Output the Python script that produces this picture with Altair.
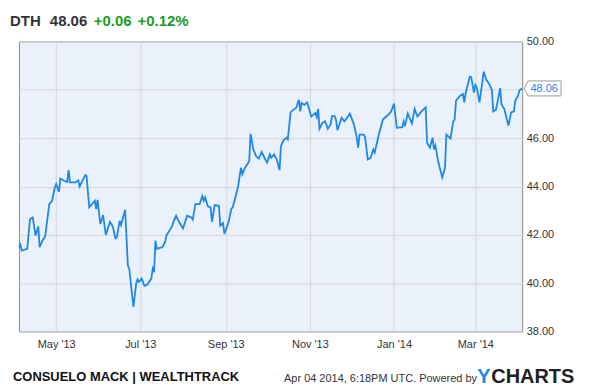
import altair as alt
import pandas as pd

# ---------------- data ----------------
start_date = "2013-04-04"
day_offsets = [
    0, 1, 2, 6, 8, 10, 12, 14, 15, 17, 19, 22, 24, 26, 27, 29, 30, 33, 35, 36,
    37, 41, 43, 44, 48, 49, 51, 55, 56, 57, 59, 61, 63, 66, 68, 70, 71, 73, 74, 77,
    79, 80, 83, 85, 86, 87, 89, 91, 93, 96, 97, 98, 99, 100, 104, 106, 107, 111, 112, 114,
    116, 119, 122, 125, 126, 128, 131, 133, 134, 135, 137, 139, 140, 142, 145, 146, 148, 149, 152, 154,
    155, 157, 159, 161, 162, 164, 167, 168, 170, 172, 174, 176, 179, 180, 182, 183, 185, 187, 189, 190,
    192, 194, 195, 197, 199, 201, 203, 204, 205, 207, 209, 212, 215, 216, 217, 218, 220, 222, 224, 226,
    227, 229, 230, 231, 234, 236, 238, 240, 243, 245, 246, 247, 250, 251, 253, 255, 257, 258, 261, 264,
    268, 270, 272, 274, 278, 279, 280, 282, 285, 287, 289, 292, 295, 296, 298, 300, 301, 302, 304, 307,
    309, 310, 313, 315, 316, 317, 320, 322, 323, 324, 327, 328, 330, 331, 332, 334, 336, 337, 339, 341,
    343, 344, 346, 349, 350, 352, 355, 357, 359, 360, 362, 363, 365,
]
prices = [
    41.49, 41.60, 41.35, 41.42, 42.65, 42.72, 41.97, 42.35, 41.49, 41.76, 41.94, 43.27, 43.41, 43.96, 44.10, 43.78, 44.33, 44.23, 44.19, 44.68,
    44.17, 44.17, 44.26, 44.00, 44.47, 44.44, 43.14, 43.41, 43.07, 43.45, 42.45, 42.82, 42.00, 42.54, 42.35, 41.86, 41.90, 42.58, 42.41, 43.04,
    40.73, 40.60, 39.02, 39.98, 40.16, 40.05, 40.19, 39.89, 39.94, 40.19, 40.60, 40.46, 41.76, 41.42, 41.49, 41.70, 41.98, 42.35, 42.53, 42.79,
    42.54, 42.27, 42.79, 42.72, 42.63, 43.27, 43.27, 43.61, 43.41, 43.55, 43.18, 43.14, 42.54, 43.23, 43.20, 42.38, 42.49, 42.04, 42.52, 43.07,
    43.14, 43.55, 44.02, 44.78, 44.51, 44.78, 45.05, 46.18, 45.54, 45.26, 45.16, 45.43, 45.09, 44.99, 45.33, 45.19, 45.33, 45.12, 44.68, 45.67,
    45.92, 46.02, 45.95, 47.07, 47.18, 47.25, 47.59, 47.11, 47.46, 47.38, 47.48, 46.90, 47.04, 46.88, 47.21, 46.39, 46.63, 46.70, 46.39, 46.56,
    46.91, 46.91, 46.74, 46.33, 46.84, 46.70, 46.84, 47.02, 46.56, 46.02, 45.61, 46.15, 46.15, 46.06, 45.12, 45.19, 45.53, 45.40, 46.15, 46.77,
    46.98, 47.11, 47.43, 46.43, 46.46, 46.70, 46.50, 47.02, 46.61, 47.21, 46.90, 47.11, 47.28, 45.81, 45.61, 46.02, 45.54, 45.70, 45.05, 44.37,
    44.78, 46.15, 45.98, 46.70, 46.77, 47.56, 47.76, 47.83, 47.48, 47.87, 48.55, 48.53, 47.89, 48.21, 48.11, 47.48, 48.28, 48.76, 48.42, 48.25,
    48.00, 47.11, 47.18, 48.07, 47.39, 47.21, 46.52, 47.07, 47.11, 47.56, 47.76, 47.98, 48.06,
]

ticker = "DTH"
last_price_text = "48.06"
change_abs = "+0.06"
change_pct = "+0.12%"
footer_left = "CONSUELO MACK | WEALTHTRACK"
footer_right = "Apr 04 2014, 6:18PM UTC. Powered by"
logo_a = "Y"
logo_b = "CHARTS"

x_domain = [(2013, 4, 4), (2014, 4, 4)]
x_ticks = [(2013, 5, 1), (2013, 7, 1), (2013, 9, 1), (2013, 11, 1), (2014, 1, 1), (2014, 3, 1)]
y_ticks = [38, 40, 42, 44, 46, 48, 50]

# ---------------- chart ----------------
FONT = "Liberation Sans"
LINE_BLUE = "#1E88E5"
GRID = "#D4D7DC"

df = pd.DataFrame({
    "date": pd.Timestamp(start_date) + pd.to_timedelta(day_offsets, unit="D"),
    "price": prices,
})
last = df.tail(1).assign(label=last_price_text)

def dt(t):
    return alt.DateTime(year=t[0], month=t[1], date=t[2])

x_enc = alt.X(
    "date:T",
    scale=alt.Scale(domain=[dt(t) for t in x_domain], nice=False),
    axis=alt.Axis(
        values=[dt(t) for t in x_ticks], format="%b '%y", title=None,
        labelFont=FONT, labelFontSize=11, labelColor="#333333", labelPadding=7,
        ticks=False, domain=False, grid=True, gridColor=GRID, gridWidth=1,
    ),
)
y_enc = alt.Y(
    "price:Q",
    scale=alt.Scale(domain=[38, 50], nice=False, zero=False),
    axis=alt.Axis(
        orient="right", values=y_ticks, format=".2f", title=None,
        labelFont=FONT, labelFontSize=11, labelColor="#333333", labelPadding=4,
        ticks=False, domain=False, grid=True, gridColor=GRID, gridWidth=1,
    ),
)

line = alt.Chart(df).mark_line(color=LINE_BLUE, strokeWidth=1.8).encode(x=x_enc, y=y_enc)

tag_path = "M0.2,0 L0.6,-0.75 L3.9,-0.75 L3.9,0.75 L0.6,0.75 Z"
tag_box = alt.Chart(last).mark_point(
    shape=tag_path, size=400, filled=True, fill="white", stroke="#9A9A9A",
    strokeWidth=1, opacity=1,
).encode(x="date:T", y="price:Q")
tag_text = alt.Chart(last).mark_text(
    font=FONT, fontSize=11, color=LINE_BLUE, align="center", baseline="middle", dx=22, dy=1,
).encode(x="date:T", y="price:Q", text="label:N")


def note(txt, x, y, size, color, weight="normal"):
    return alt.Chart(pd.DataFrame({"t": [txt]})).mark_text(
        font=FONT, fontSize=size, color=color, fontWeight=weight,
        align="left", baseline="alphabetic",
    ).encode(text="t:N", x=alt.value(x), y=alt.value(y))


GREEN = "#1E9B1E"
notes = [
    note(ticker, -9, -16, 15, "#333333", "bold"),
    note(last_price_text, 31, -16, 15, "#333333", "bold"),
    note(change_abs, 75, -16, 15, GREEN, "bold"),
    note(change_pct, 119, -16, 15, GREEN, "bold"),
    note(footer_left, -6, 341, 13, "#111111", "bold"),
    note(footer_right, 266, 342, 11, "#333333"),
    note(logo_a, 460, 343, 20, LINE_BLUE, "bold"),
    note(logo_b, 474, 343, 20, "#222222", "bold"),
]

chart = alt.layer(line, tag_box, tag_text, *notes).properties(
    width=505,
    height=291,
    autosize=alt.AutoSizeParams(type="none"),
    padding={"left": 11, "top": 33, "right": 60, "bottom": 58},
    background="white",
).configure_view(
    fill="#EAF1FB", stroke="#8C8C8C", strokeWidth=1,
)

chart.save("out.html", embed_options={"renderer": "svg", "actions": False})
